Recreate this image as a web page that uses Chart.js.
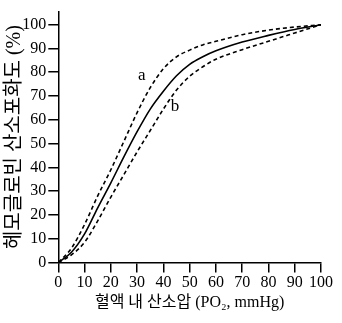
<!DOCTYPE html>
<html>
<head>
<meta charset="utf-8">
<script src="https://cdn.jsdelivr.net/npm/chart.js@4.4.1/dist/chart.umd.min.js"></script>
<style>
  html, body { margin: 0; padding: 0; background: #fff; }
  #wrap { width: 342px; height: 323px; }
</style>
</head>
<body>
<div id="wrap"><canvas id="chart" width="342" height="323"></canvas></div>
<script>
// oxygen partial pressure (mmHg)
const po2 = [0, 5, 10, 15, 20, 25, 30, 35, 40, 45, 50, 55, 60, 70, 80, 90, 100];
// saturation (%) - normal curve and the two shifted curves
const satNormal = [0, 4.3, 12, 23, 33.5, 44.5, 55, 64.5, 72, 78.5, 83.3, 86.5, 89, 92.7, 95.5, 98, 100];
const satA = [0, 6, 16, 28, 39, 51, 63, 73.5, 81.5, 86.5, 89.3, 91.5, 93, 95.8, 97.7, 99, 100];
const satB = [0, 3.2, 8.5, 17.5, 27.5, 37, 46.5, 55.5, 64.5, 72.5, 78.3, 82.3, 85.5, 89.5, 93, 96.5, 100];
const xTicks = [0, 10, 20, 30, 40, 50, 60, 70, 80, 90, 100];
const yTicks = [0, 10, 20, 30, 40, 50, 60, 70, 80, 90, 100];
const curveLabels = [{ text: 'a', x: 31.8, y: 78.5 }, { text: 'b', x: 44.4, y: 65.5 }];

const serif = "'Liberation Serif', 'Noto Sans CJK KR', serif";

function toPoints(ys) {
  return po2.map((x, i) => ({ x: x, y: ys[i] }));
}

function lineSet(data, dashed) {
  return {
    data: toPoints(data),
    borderColor: '#000',
    borderWidth: 1.6,
    borderDash: dashed ? [4, 3] : [],
    pointRadius: 0,
    fill: false,
    cubicInterpolationMode: 'monotone'
  };
}

// writes the curve names next to the dashed lines
const curveNames = {
  id: 'curveNames',
  afterDatasetsDraw(chart) {
    const ctx = chart.ctx;
    const xs = chart.scales.x, ys = chart.scales.y;
    ctx.save();
    ctx.fillStyle = '#000';
    ctx.font = '17px ' + serif;
    ctx.textAlign = 'center';
    ctx.textBaseline = 'middle';
    curveLabels.forEach(l => {
      ctx.fillText(l.text, xs.getPixelForValue(l.x), ys.getPixelForValue(l.y));
    });
    ctx.restore();
  }
};

new Chart(document.getElementById('chart').getContext('2d'), {
  type: 'line',
  data: {
    datasets: [lineSet(satA, true), lineSet(satNormal, false), lineSet(satB, true)]
  },
  options: {
    responsive: false,
    animation: false,
    layout: { padding: { top: 5, right: 21, left: 3, bottom: 11 } },
    plugins: { legend: { display: false }, tooltip: { enabled: false } },
    scales: {
      x: {
        type: 'linear',
        min: 0,
        max: 100,
        border: { color: '#000', width: 1.5 },
        grid: { drawOnChartArea: false, drawTicks: true, tickLength: 10, color: '#000', lineWidth: 1.5 },
        ticks: { autoSkip: false, color: '#000', font: { family: serif, size: 16 }, padding: 1, maxRotation: 0 },
        afterBuildTicks(scale) { scale.ticks = xTicks.map(v => ({ value: v })); },
        title: {
          display: true,
          text: '혈액 내 산소압 (PO₂, mmHg)',
          color: '#000',
          font: { family: serif, size: 16 },
          padding: { top: 1, bottom: 0 }
        },
        afterFit(scale) { scale.height = 49.5; }
      },
      y: {
        type: 'linear',
        min: 0,
        max: 105.5,
        border: { color: '#000', width: 1.5 },
        grid: { drawOnChartArea: false, drawTicks: true, tickLength: 10, color: '#000', lineWidth: 1.5 },
        ticks: { autoSkip: false, color: '#000', font: { family: serif, size: 16 }, padding: 2 },
        afterBuildTicks(scale) { scale.ticks = yTicks.map(v => ({ value: v })); },
        title: {
          display: true,
          text: '헤모글로빈 산소포화도 (%)',
          color: '#000',
          font: { family: serif, size: 20 },
          padding: { top: 0, bottom: 0 }
        },
        afterFit(scale) { scale.width = 55.3; }
      }
    }
  },
  plugins: [curveNames]
});
</script>
</body>
</html>
